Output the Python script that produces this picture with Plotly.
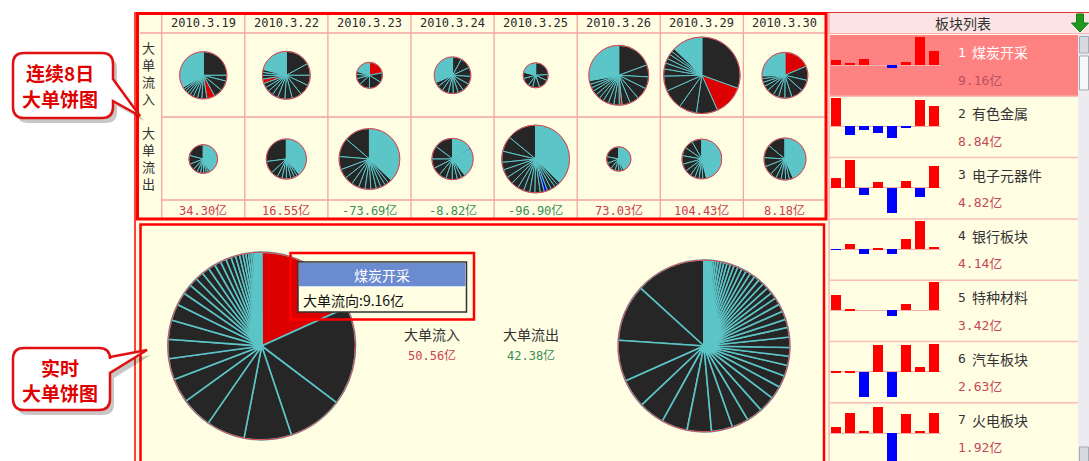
import plotly.graph_objects as go

W, H = 1089, 461

# ---- data ----
dates = ['2010.3.19', '2010.3.22', '2010.3.23', '2010.3.24',
         '2010.3.25', '2010.3.26', '2010.3.29', '2010.3.30']
net_flow = [34.30, 16.55, -73.69, -8.82, -96.90, 73.03, 104.43, 8.18]
in_total = [54.5, 56.0, 16.6, 32.8, 15.3, 87.6, 143.0, 51.4]
out_total = [20.2, 39.45, 90.29, 41.62, 112.2, 14.57, 38.57, 43.22]

# slice shares (%) per day, largest first; entries from *_fine on are the many tiny orders
in_shares = [
    [25, 4, 7, 6, 5.5, 3.5, 3, 3, 2.5, 2, 2, 1.5, 1.5, 33.5],
    [17, 8, 7, 7.5, 6.5, 5, 5, 4, 3.5, 3, 3, 3, 2.5, 2, 2, 21],
    [22, 12, 16, 13, 8, 5, 4, 20],
    [8, 10, 8, 7, 7, 5, 4.5, 4.5, 5.5, 5, 4, 31.5],
    [24, 8, 13, 9, 6, 11, 8, 21],
    [19.5, 6.5, 6.5, 6.5, 5, 4.5, 1.5, 3, 3, 3, 2.5, 2.5, 2.5, 2, 2, 2, 28],
    [30.5, 12.8, 9, 7.5, 8.5, 6.4, 3, 2.5, 2, 2, 1.5, 1.5, 12.8],
    [18.6, 10, 8, 8.5, 5, 4.5, 4, 5, 3.5, 3, 2.5, 2, 25.4],
]
in_mark = [4, 11, 0, None, None, 6, 1, 0]
in_fine = [13, 15, 7, 11, 7, 16, 12, 12]

out_shares = [
    [21, 10, 7, 5, 4, 3.5, 3, 2.5, 2, 42],
    [27, 10, 5.5, 4, 3.6, 3.6, 3, 2.5, 2, 38.8],
    [13.7, 10, 7, 5, 4.5, 4, 3.5, 3, 3, 2.5, 2.5, 2, 2, 37.3],
    [14.7, 10.3, 7.5, 6.5, 5.8, 5, 4, 3.5, 3, 23, 1, 15.7],
    [14, 7.3, 5.3, 3.6, 4, 3.5, 3.5, 3, 3, 2.5, 2.5, 2, 1.5, 2, 2, 1.5, 1.5, 37.3],
    [22, 9, 8, 6, 5, 4, 3, 43],
    [8.3, 7, 7, 7, 6, 5, 4, 3.5, 3, 3, 46.2],
    [14, 10, 7, 7, 5, 4, 3.5, 3, 3, 43.5],
]
out_mark = [None, None, None, 10, 12, None, None, None]
out_fine = [9, 9, 13, 9, 17, 7, 10, 9]

rt_in_total = 50.56
rt_out_total = 42.38
rt_in_shares = [9.16, 8.6, 4.8, 4.1, 3.34, 2.68, 2.12, 1.82, 1.67, 1.67, 1.42, 1.11, 0.86,
                0.76, 0.71, 0.66, 0.61, 0.56, 0.51, 0.46, 0.4, 0.35, 0.3, 0.25, 0.23, 0.2,
                0.18, 0.15, 0.13, 0.1, 0.09, 0.08, 0.06, 0.05, 0.04, 0.03, 0.025]
rt_out_shares = [13, 10.5, 7.6, 5.3, 4.8, 4.8, 4.5, 3.9, 3.1, 3, 3, 2.4, 2.2, 2, 1.7, 1.6,
                 1.9, 1.8, 1.5, 1.6, 1.4, 1.3, 1.2, 1.15, 1.1, 1.05, 1.0, 0.95, 0.9, 0.85,
                 0.8, 0.75, 0.7, 0.65, 0.6, 0.55, 0.5, 0.45, 0.4, 0.35, 0.3, 0.25, 0.2,
                 0.15, 0.12, 0.1, 0.08, 0.06, 0.05, 0.04, 0.03]

sectors = ['煤炭开采', '有色金属', '电子元器件', '银行板块', '特种材料', '汽车板块', '火电板块']
sector_net = [9.16, 8.84, 4.82, 4.14, 3.42, 2.63, 1.92]
sector_daily = [
    [5, 2.3, 6, 0, -2.7, 3.3, 28.3, 14],
    [28.3, -8.3, -3.3, -6.7, -11.7, -2, 26, 20],
    [10, 28.3, -6.7, 6.7, -25, 7.7, -8.3, 22.7],
    [-0.3, 5, -4.7, 1.7, -4.7, 10, 28.6, 2.7],
    [15, 1.3, 0, 0, -6, 6, 0, 28.3],
    [1, 1, -25, 27.3, -25, 27.3, 5, 28.3],
    [6, 20.7, 2, 26, -30, 19.3, 2, 20.7],
]

# ---- style ----
DARK = '#262626'
CYAN = '#5cc5c8'
RED = '#dd0000'
BLUE = '#0000e6'
CREAM = '#fffee3'
PINK = '#f5a3a3'
CJK = 'Noto Sans CJK SC'
MONO = 'DejaVu Sans Mono, Noto Sans CJK SC'


def X(px):
    return px / W


def Y(py):
    return 1 - py / H


shapes = []
annotations = []


def rect(x0, y0, x1, y1, fill=None, line=None, width=0, layer='below'):
    shapes.append(dict(type='rect', xref='paper', yref='paper',
                       x0=X(x0), x1=X(x1), y0=Y(y1), y1=Y(y0),
                       fillcolor=fill or 'rgba(0,0,0,0)',
                       line=dict(color=line or 'rgba(0,0,0,0)', width=width),
                       layer=layer))


def hline(x0, x1, y, color, width=1, layer='below'):
    shapes.append(dict(type='line', xref='paper', yref='paper',
                       x0=X(x0), x1=X(x1), y0=Y(y), y1=Y(y),
                       line=dict(color=color, width=width), layer=layer))


def vline(x, y0, y1, color, width=1, layer='below'):
    shapes.append(dict(type='line', xref='paper', yref='paper',
                       x0=X(x), x1=X(x), y0=Y(y0), y1=Y(y1),
                       line=dict(color=color, width=width), layer=layer))


def text(x, y, s, size=12, color='#333333', family=CJK, xanchor='center', bold=False):
    annotations.append(dict(x=X(x), y=Y(y), xref='paper', yref='paper', text=s,
                            showarrow=False, xanchor=xanchor, yanchor='middle',
                            font=dict(size=size, color=color, family=family,
                                      weight='bold' if bold else 'normal')))


def path(pts, fill, line, width):
    d = 'M ' + ' '.join(p if isinstance(p, str) else f'{X(p[0]):.5f},{Y(p[1]):.5f}' for p in pts) + ' Z'
    shapes.append(dict(type='path', xref='paper', yref='paper', path=d,
                       fillcolor=fill, line=dict(color=line, width=width), layer='above'))


def bubble(x0, y0, x1, y1, t1, tip, t2, dx=0, dy=0, fill='white', line='#e01010', width=2.5):
    r = 11
    x0, x1, y0, y1 = x0 + dx, x1 + dx, y0 + dy, y1 + dy
    tip = (tip[0] + dx, tip[1] + dy)
    t1, t2 = t1 + dy, t2 + dy
    pts = [(x0 + r, y0), 'L', (x1 - r, y0), 'Q', (x1, y0), (x1, y0 + r), 'L', (x1, t1), 'L', tip,
           'L', (x1, t2), 'L', (x1, y1 - r), 'Q', (x1, y1), (x1 - r, y1), 'L', (x0 + r, y1),
           'Q', (x0, y1), (x0, y1 - r), 'L', (x0, y0 + r), 'Q', (x0, y0), (x0 + r, y0)]
    path(pts, fill, line, width)


def colors_for(n, mark, fine, mark_color):
    cols = []
    for i in range(n):
        if i == mark:
            cols.append(mark_color)
        elif i >= fine:
            cols.append(CYAN)
        else:
            cols.append(DARK)
    return cols


fig = go.Figure()


def add_pie(vals, cols, cx, cy, d, direction, lw=1):
    # plotly ends the first slice at 12 o'clock when counterclockwise; shift it to start there
    rot = 0 if direction == 'clockwise' else -360 * vals[0] / sum(vals)
    fig.add_trace(go.Pie(values=vals, sort=False, direction=direction, rotation=rot,
                         marker=dict(colors=cols, line=dict(color=CYAN, width=lw)),
                         textinfo='none', hoverinfo='skip', showlegend=False,
                         domain=dict(x=[X(cx - d / 2), X(cx + d / 2)],
                                     y=[Y(cy + d / 2), Y(cy - d / 2)])))
    shapes.append(dict(type='circle', xref='paper', yref='paper',
                       x0=X(cx - d / 2), x1=X(cx + d / 2), y0=Y(cy + d / 2), y1=Y(cy - d / 2),
                       line=dict(color='#ee3c48', width=1), layer='above'))


# ---- backgrounds ----
rect(135, 12, 828, 461, fill=CREAM)
rect(829, 33, 1078, 461, fill=CREAM)
rect(826, 12, 1089, 33, fill='#fce4e4')
rect(830, 35, 1078, 96.7, fill='#ff8282')
rect(1078, 33, 1089, 461, fill='#ececf0')

# top grid
col0, col_w = 161.7, 83.1
for i in range(9):
    vline(col0 + col_w * i, 13, 219, PINK, 1.3)
hline(140, 826, 33, PINK, 1.3)
hline(col0, 826, 117, PINK, 1.3)
hline(col0, 826, 200, PINK, 1.3)

# right list rows
row_top0, row_h = 35, 61.3
for k in range(1, 7):
    hline(830, 1078, row_top0 + row_h * k, '#f8bcbc', 1.5)
vline(829, 12, 461, '#f5a0a0', 1.2)
hline(826, 1089, 12.5, '#f03030', 1)
hline(826, 1089, 33.5, '#f5b5b5', 1)

# red frames
vline(135, 12, 461, '#ff0000', 1.5, 'above')
rect(137.5, 13.5, 826, 219, line='#ff0000', width=3, layer='above')
rect(140.5, 224.5, 824, 470, line='#ff0000', width=2.5, layer='above')

# scrollbar
rect(1079.5, 36.5, 1088.5, 53, fill='#d9d9e0', line='#a8a8b4', width=1, layer='above')
rect(1079.5, 56, 1088.5, 90, fill='#f6f6f8', line='#a8a8b4', width=1, layer='above')
rect(1079.5, 447, 1088.5, 462, fill='#d9d9e0', line='#a8a8b4', width=1, layer='above')

# green arrow in header
path([(1076.5, 14), 'L', (1083.5, 14), 'L', (1083.5, 23), 'L', (1088.5, 23), 'L', (1080, 32),
      'L', (1071.5, 23), 'L', (1076.5, 23)], '#1f9a1f', '#157a15', 1)

# ---- 8-day pies ----
for i in range(8):
    cx = col0 + col_w * (i + 0.5)
    d_in = 6.4 * in_total[i] ** 0.5
    d_out = 6.4 * out_total[i] ** 0.5
    add_pie(in_shares[i], colors_for(len(in_shares[i]), in_mark[i], in_fine[i], RED),
            cx, 75.3, d_in, 'clockwise')
    add_pie(out_shares[i], colors_for(len(out_shares[i]), out_mark[i], out_fine[i], BLUE),
            cx, 159, d_out, 'counterclockwise')
    text(cx, 22.5, dates[i], 12, '#2a2a2a', MONO)
    v = net_flow[i]
    text(cx, 210, f'{v:.2f}亿', 12, '#c84050' if v > 0 else '#3c8c5c', MONO)

text(148.5, 73, '大<br>单<br>流<br>入', 13, '#333333')
text(148.5, 158, '大<br>单<br>流<br>出', 13, '#333333')

# ---- real-time pies ----
add_pie(rt_in_shares, colors_for(len(rt_in_shares), 0, len(rt_in_shares), RED),
        261.7, 346, 26.4 * rt_in_total ** 0.5, 'clockwise', 1.6)
add_pie(rt_out_shares, colors_for(len(rt_out_shares), None, len(rt_out_shares), BLUE),
        704, 346, 26.4 * rt_out_total ** 0.5, 'counterclockwise', 1.6)
text(432, 334, '大单流入', 14, '#333333')
text(432, 355, f'{rt_in_total:.2f}亿', 12, '#c84050', MONO)
text(531, 334, '大单流出', 14, '#333333')
text(531, 355, f'{rt_out_total:.2f}亿', 12, '#3c8c5c', MONO)

# tooltip
rect(290.5, 253, 474, 319.5, line='#ff0000', width=2.5, layer='above')
rect(298, 262, 466.5, 312, fill='#fffee3', line='#333333', width=1.5, layer='above')
rect(299, 263, 465.5, 286.5, fill='#6b8bd0', layer='above')
hline(299, 465.5, 287, '#ffffff', 1, 'above')
text(382, 274.5, sectors[0], 14, '#ffffff')
text(301, 299.5, f'大单流向:{sector_net[0]:.2f}亿', 14, '#111111', xanchor='left')

# ---- sector list with mini bars ----
layout_axes = {}
for k in range(7):
    top = row_top0 + row_h * k
    base = top + 30.3
    bottom = min(top + row_h, H)
    s = '' if k == 0 else str(k + 1)
    vals = sector_daily[k]
    fig.add_trace(go.Bar(x=list(range(8)), y=vals, width=0.78,
                         marker=dict(color=['#ff0000' if v >= 0 else '#0000ff' for v in vals],
                                     line=dict(width=0)),
                         xaxis='x' + s, yaxis='y' + s, hoverinfo='skip', showlegend=False))
    layout_axes['xaxis' + s] = dict(domain=[X(828.6), X(940.6)], range=[-0.5, 7.5],
                                    visible=False, anchor='y' + s, fixedrange=True)
    layout_axes['yaxis' + s] = dict(domain=[Y(bottom), Y(top)],
                                    range=[-(bottom - base), base - top],
                                    showgrid=False, showticklabels=False, ticks='',
                                    showline=False, zeroline=True,
                                    zerolinecolor='#f4aeae', zerolinewidth=1,
                                    anchor='x' + s, fixedrange=True)
    name_col = '#ffffff' if k == 0 else '#333333'
    text(956, top + 17, str(k + 1), 13, name_col, MONO, xanchor='left')
    text(970, top + 17, sectors[k], 14, name_col, xanchor='left')
    text(956, top + 45, f'{sector_net[k]:.2f}亿', 13, '#b85060' if k == 0 else '#c44858',
         MONO, xanchor='left')

text(963, 22.5, '板块列表', 14, '#333333')

# ---- callouts ----
bubble(13, 53, 113, 118, 79, (140, 116), 101, dx=4, dy=5, fill='rgba(0,0,0,0.22)', line='rgba(0,0,0,0)', width=0)
bubble(13, 53, 113, 118, 79, (140, 116), 101)
text(60, 72, '连续8日', 19, '#e00000', bold=True)
text(60, 98, '大单饼图', 19, '#e00000', bold=True)

bubble(13, 348, 110, 410, 357, (147, 350), 373, dx=4, dy=5, fill='rgba(0,0,0,0.22)', line='rgba(0,0,0,0)', width=0)
bubble(13, 348, 110, 410, 357, (147, 350), 373)
text(60, 367, '实时', 19, '#e00000', bold=True)
text(60, 392, '大单饼图', 19, '#e00000', bold=True)

fig.update_layout(
    width=W, height=H,
    margin=dict(l=0, r=0, t=0, b=0),
    paper_bgcolor='white',
    plot_bgcolor='rgba(0,0,0,0)',
    shapes=shapes,
    annotations=annotations,
    bargap=0,
    **layout_axes,
)

fig.write_html("out.html", config={'displayModeBar': False},
               post_script="document.body.style.margin='0';document.body.style.overflow='hidden';")
